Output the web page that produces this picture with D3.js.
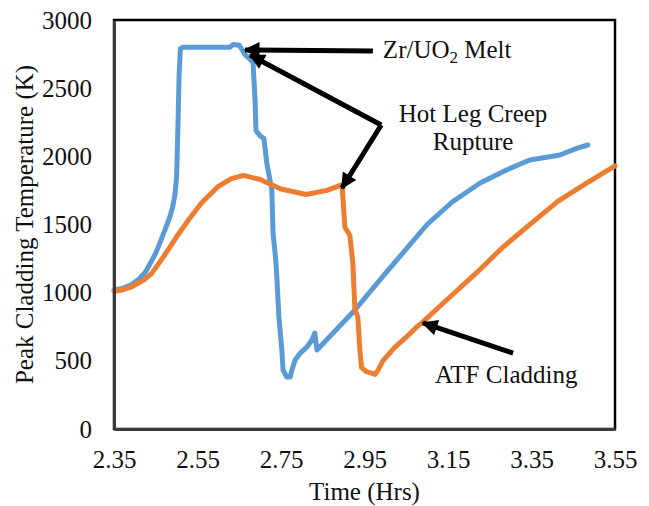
<!DOCTYPE html>
<html>
<head>
<meta charset="utf-8">
<script src="https://cdnjs.cloudflare.com/ajax/libs/d3/7.8.5/d3.min.js"></script>
<style>
  body { margin: 0; background: #fff; }
  svg text { font-family: "Liberation Serif", "Times New Roman", "DejaVu Serif", serif !important; fill: #111; }
</style>
</head>
<body>
<svg width="649" height="506"></svg>
<script>
// Data
let xTicks = [2.35, 2.55, 2.75, 2.95, 3.15, 3.35, 3.55]
let yTicks = [0, 500, 1000, 1500, 2000, 2500, 3000]

// Zr cladding (blue): [time, temperature]
let zrCladding = [
    [2.35, 1020], [2.37, 1030], [2.39, 1055], [2.41, 1100], [2.425, 1150], [2.436, 1210],
    [2.45, 1290], [2.462, 1380], [2.472, 1460], [2.482, 1540], [2.49, 1620], [2.496, 1720],
    [2.500, 1850], [2.503, 2200], [2.506, 2600], [2.509, 2790], [2.515, 2800], [2.55, 2800],
    [2.60, 2800], [2.628, 2800], [2.635, 2820], [2.65, 2815], [2.664, 2745], [2.683, 2690],
    [2.688, 2400], [2.690, 2190], [2.700, 2150], [2.709, 2130], [2.716, 1951], [2.728, 1753],
    [2.731, 1438], [2.738, 1218], [2.740, 1115], [2.745, 822], [2.752, 579], [2.755, 433],
    [2.764, 381], [2.772, 381], [2.776, 433], [2.784, 506], [2.796, 557], [2.812, 601],
    [2.824, 653], [2.831, 704], [2.836, 579], [2.843, 601], [2.927, 873], [3.00, 1141],
    [3.10, 1500], [3.16, 1665], [3.227, 1804], [3.29, 1900], [3.346, 1973], [3.418, 2010],
    [3.46, 2060], [3.485, 2083]
]

// ATF cladding (orange)
let atfCladding = [
    [2.35, 1010], [2.37, 1020], [2.39, 1040], [2.42, 1090], [2.44, 1140], [2.47, 1270],
    [2.50, 1410], [2.53, 1540], [2.56, 1660], [2.60, 1780], [2.63, 1835], [2.66, 1860],
    [2.70, 1830], [2.75, 1760], [2.81, 1720], [2.86, 1750], [2.895, 1790], [2.897, 1760],
    [2.903, 1480], [2.915, 1420], [2.922, 1220], [2.927, 880], [2.934, 820], [2.939, 580],
    [2.943, 450], [2.955, 420], [2.975, 400], [2.982, 430], [2.994, 500], [3.023, 600],
    [3.052, 680], [3.076, 750], [3.088, 780], [3.148, 950], [3.22, 1150], [3.28, 1330],
    [3.35, 1510], [3.413, 1670], [3.48, 1800], [3.55, 1930]
]

// annotation arrows: [from, to] in data units
let arrows = [
    [[2.970, 2773], [2.664, 2780]],
    [[2.990, 2230], [2.676, 2743]],
    [[2.990, 2230], [2.896, 1768]],
    [[3.306, 557], [3.090, 778]]
]

let svg = d3.select('svg')
let plot = { left: 114, right: 615, top: 20, bottom: 429 }
let serif = '"Liberation Serif", "Times New Roman", serif'
let fontSize = 25

let scale = {
    x: d3.scaleLinear().domain([2.35, 3.55]).range([plot.left, plot.right]),
    y: d3.scaleLinear().domain([0, 3000]).range([plot.bottom, plot.top])
}

let line = d3.line()
    .x(d => scale.x(d[0]))
    .y(d => scale.y(d[1]))

// frame
svg.append('rect')
    .attr('x', plot.left).attr('y', plot.top)
    .attr('width', plot.right - plot.left).attr('height', plot.bottom - plot.top)
    .attr('fill', 'none').attr('stroke', '#000').attr('stroke-width', 2.5)

// series
svg.append('path').datum(zrCladding)
    .attr('d', line).attr('fill', 'none')
    .attr('stroke', '#5B9BD5').attr('stroke-width', 5)
    .attr('stroke-linejoin', 'round').attr('stroke-linecap', 'round')

svg.append('path').datum(atfCladding)
    .attr('d', line).attr('fill', 'none')
    .attr('stroke', '#ED7D31').attr('stroke-width', 5)
    .attr('stroke-linejoin', 'round').attr('stroke-linecap', 'round')

// X axis
let xAxis = svg.append('g')
    .attr('transform', `translate(0,${plot.bottom})`)
    .call(d3.axisBottom(scale.x).tickValues(xTicks).tickFormat(d3.format('.2f')).tickSize(0).tickPadding(21))
xAxis.attr('font-family', serif)
xAxis.select('.domain').attr('stroke', '#3a3a3a').attr('stroke-width', 3)
xAxis.selectAll('text').attr('font-size', fontSize).attr('fill', '#111')

// Y axis
let yAxis = svg.append('g')
    .attr('transform', `translate(${plot.left},0)`)
    .call(d3.axisLeft(scale.y).tickValues(yTicks).tickFormat(d3.format('d')).tickSize(0).tickPadding(22))
yAxis.attr('font-family', serif)
yAxis.select('.domain').attr('stroke', '#3a3a3a').attr('stroke-width', 3)
yAxis.selectAll('text').attr('font-size', fontSize).attr('fill', '#111')

// axis titles
svg.append('text')
    .attr('x', (plot.left + plot.right) / 2).attr('y', 500)
    .attr('text-anchor', 'middle').attr('font-size', fontSize)
    .text('Time (Hrs)')

svg.append('text')
    .attr('transform', `translate(33,${(plot.top + plot.bottom) / 2}) rotate(-90)`)
    .attr('text-anchor', 'middle').attr('font-size', fontSize)
    .text('Peak Cladding Temperature (K)')

// arrows
svg.append('defs').append('marker')
    .attr('id', 'head')
    .attr('viewBox', '0 0 10 10')
    .attr('refX', 9).attr('refY', 5)
    .attr('markerUnits', 'userSpaceOnUse')
    .attr('markerWidth', 18).attr('markerHeight', 16)
    .attr('orient', 'auto')
    .append('path').attr('d', 'M0,0 L10,5 L0,10 Z').attr('fill', '#000')

svg.selectAll('.arrow').data(arrows).join('line')
    .attr('class', 'arrow')
    .attr('x1', d => scale.x(d[0][0])).attr('y1', d => scale.y(d[0][1]))
    .attr('x2', d => scale.x(d[1][0])).attr('y2', d => scale.y(d[1][1]))
    .attr('stroke', '#000').attr('stroke-width', 5)
    .attr('marker-end', 'url(#head)')

// labels
let zr = svg.append('text')
    .attr('x', scale.x(2.994)).attr('y', scale.y(2721))
    .attr('font-size', fontSize)
zr.append('tspan').text('Zr/UO')
zr.append('tspan').text('2').attr('font-size', 17).attr('dy', 5)
zr.append('tspan').text(' Melt').attr('dy', -5)

svg.append('text')
    .attr('x', scale.x(3.21)).attr('y', scale.y(2252))
    .attr('text-anchor', 'middle').attr('font-size', fontSize)
    .text('Hot Leg Creep')

svg.append('text')
    .attr('x', scale.x(3.21)).attr('y', scale.y(2046))
    .attr('text-anchor', 'middle').attr('font-size', fontSize)
    .text('Rupture')

svg.append('text')
    .attr('x', scale.x(3.119)).attr('y', scale.y(337))
    .attr('font-size', fontSize)
    .text('ATF Cladding')
</script>
</body>
</html>
